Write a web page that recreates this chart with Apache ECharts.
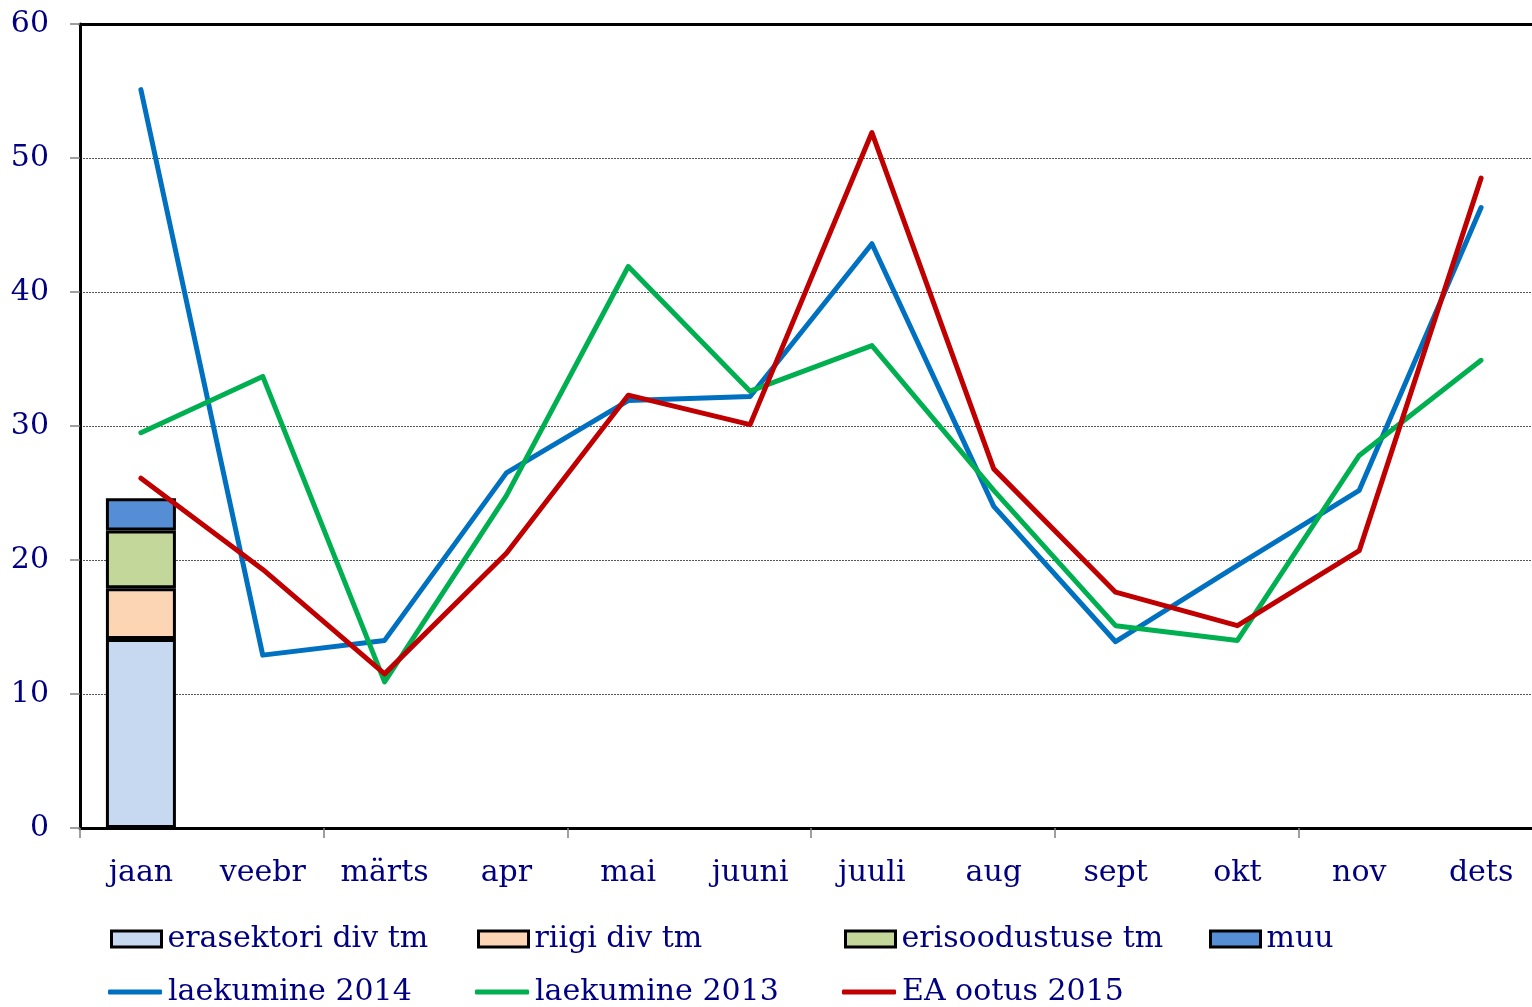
<!DOCTYPE html>
<html>
<head>
<meta charset="utf-8">
<script src="https://cdn.jsdelivr.net/npm/echarts@6/dist/echarts.min.js"></script>
<style>
html,body{margin:0;padding:0;background:#fff;overflow:hidden;}
#main{width:1542px;height:1007px;}
</style>
</head>
<body>
<div id="main"></div>
<script>
// kuud
var months = ['jaan','veebr','märts','apr','mai','juuni','juuli','aug','sept','okt','nov','dets'];
// tulumaksu komponendid (ainult jaanuar)
var erasektor = [14.1,'-','-','-','-','-','-','-','-','-','-','-'];
var riigi = [3.8,'-','-','-','-','-','-','-','-','-','-','-'];
var erisoodustus = [4.3,'-','-','-','-','-','-','-','-','-','-','-'];
var muu = [2.4,'-','-','-','-','-','-','-','-','-','-','-'];
// laekumised
var laek2014 = [55.1,12.9,14.0,26.5,31.9,32.2,43.6,24.0,13.9,19.6,25.2,46.3];
var laek2013 = [29.5,33.7,10.9,24.8,41.9,32.6,36.0,25.2,15.1,14.0,27.8,34.9];
var ootus2015 = [26.1,19.3,11.5,20.5,32.3,30.1,51.9,26.8,17.6,15.1,20.7,48.5];
var yTicks = [0,10,20,30,40,50,60];

var txtColor = '#000080';
var fontFam = 'DejaVu Serif';
var fs = 30;

// joonis on parempoolsest servast veidi ära lõigatud, seepärast on div 1542px lai
var chart = echarts.init(document.getElementById('main'));

function barSerie(name,data,color){
	return {
		name:name, type:'bar', stack:'kokku', data:data, barWidth:70,
		itemStyle:{color:color, borderColor:'#000', borderWidth:3},
		emphasis:{disabled:true}, z:2
	};
}
function lineSerie(name,data,color){
	return {
		name:name, type:'line', data:data, symbol:'none',
		lineStyle:{color:color, width:5, cap:'round', join:'round'},
		itemStyle:{color:color},
		emphasis:{disabled:true}, z:3
	};
}
function leg(name,left,top,isLine){
	return {
		data:[name], left:left, top:top, padding:0, itemGap:0,
		icon: isLine ? 'roundRect' : 'rect',
		itemWidth: isLine ? 54 : 50, itemHeight: isLine ? 5 : 16,
		itemStyle: isLine ? {borderWidth:0} : {borderColor:'#000', borderWidth:3},
		textStyle:{color:txtColor, fontFamily:fontFam, fontSize:fs, padding:[0,0,0,1]},
		selectedMode:false
	};
}

var option = {
	animation:false,
	backgroundColor:'#fff',
	grid:{left:80, right:0, top:24, bottom:179, containLabel:false},
	legend:[
		leg('erasektori div tm',110,924,false),
		leg('riigi div tm',477,924,false),
		leg('erisoodustuse tm',844,924,false),
		leg('muu',1209,924,false),
		leg('laekumine 2014',108,977,true),
		leg('laekumine 2013',475,977,true),
		leg('EA ootus 2015',842,977,true)
	],
	xAxis:[{
		type:'category', data:months, boundaryGap:true,
		axisLine:{lineStyle:{color:'#000', width:3}},
		axisTick:{show:true, interval:function(i){return i % 2 === 0;}, length:10, lineStyle:{color:'#808080', width:1.5}},
		axisLabel:{interval:0, color:txtColor, fontFamily:fontFam, fontSize:fs, margin:30}
	},{
		type:'category', data:months, position:'top',
		axisLine:{show:true, lineStyle:{color:'#000', width:3}},
		axisTick:{show:false}, axisLabel:{show:false}
	}],
	yAxis:{
		type:'value', min:yTicks[0], max:yTicks[yTicks.length-1], interval:10,
		axisLine:{show:true, lineStyle:{color:'#000', width:3}},
		axisTick:{show:true, length:10, lineStyle:{color:'#808080', width:1.5}},
		axisLabel:{color:txtColor, fontFamily:fontFam, fontSize:fs, margin:31},
		splitLine:{show:true, lineStyle:{color:'#555', width:1, type:[2,1]}}
	},
	series:[
		barSerie('erasektori div tm',erasektor,'#c6d9f1'),
		barSerie('riigi div tm',riigi,'#fcd5b5'),
		barSerie('erisoodustuse tm',erisoodustus,'#c4d79b'),
		barSerie('muu',muu,'#558ed5'),
		lineSerie('laekumine 2014',laek2014,'#0070c0'),
		lineSerie('laekumine 2013',laek2013,'#00b050'),
		lineSerie('EA ootus 2015',ootus2015,'#c00000')
	]
};
chart.setOption(option);
</script>
</body>
</html>
